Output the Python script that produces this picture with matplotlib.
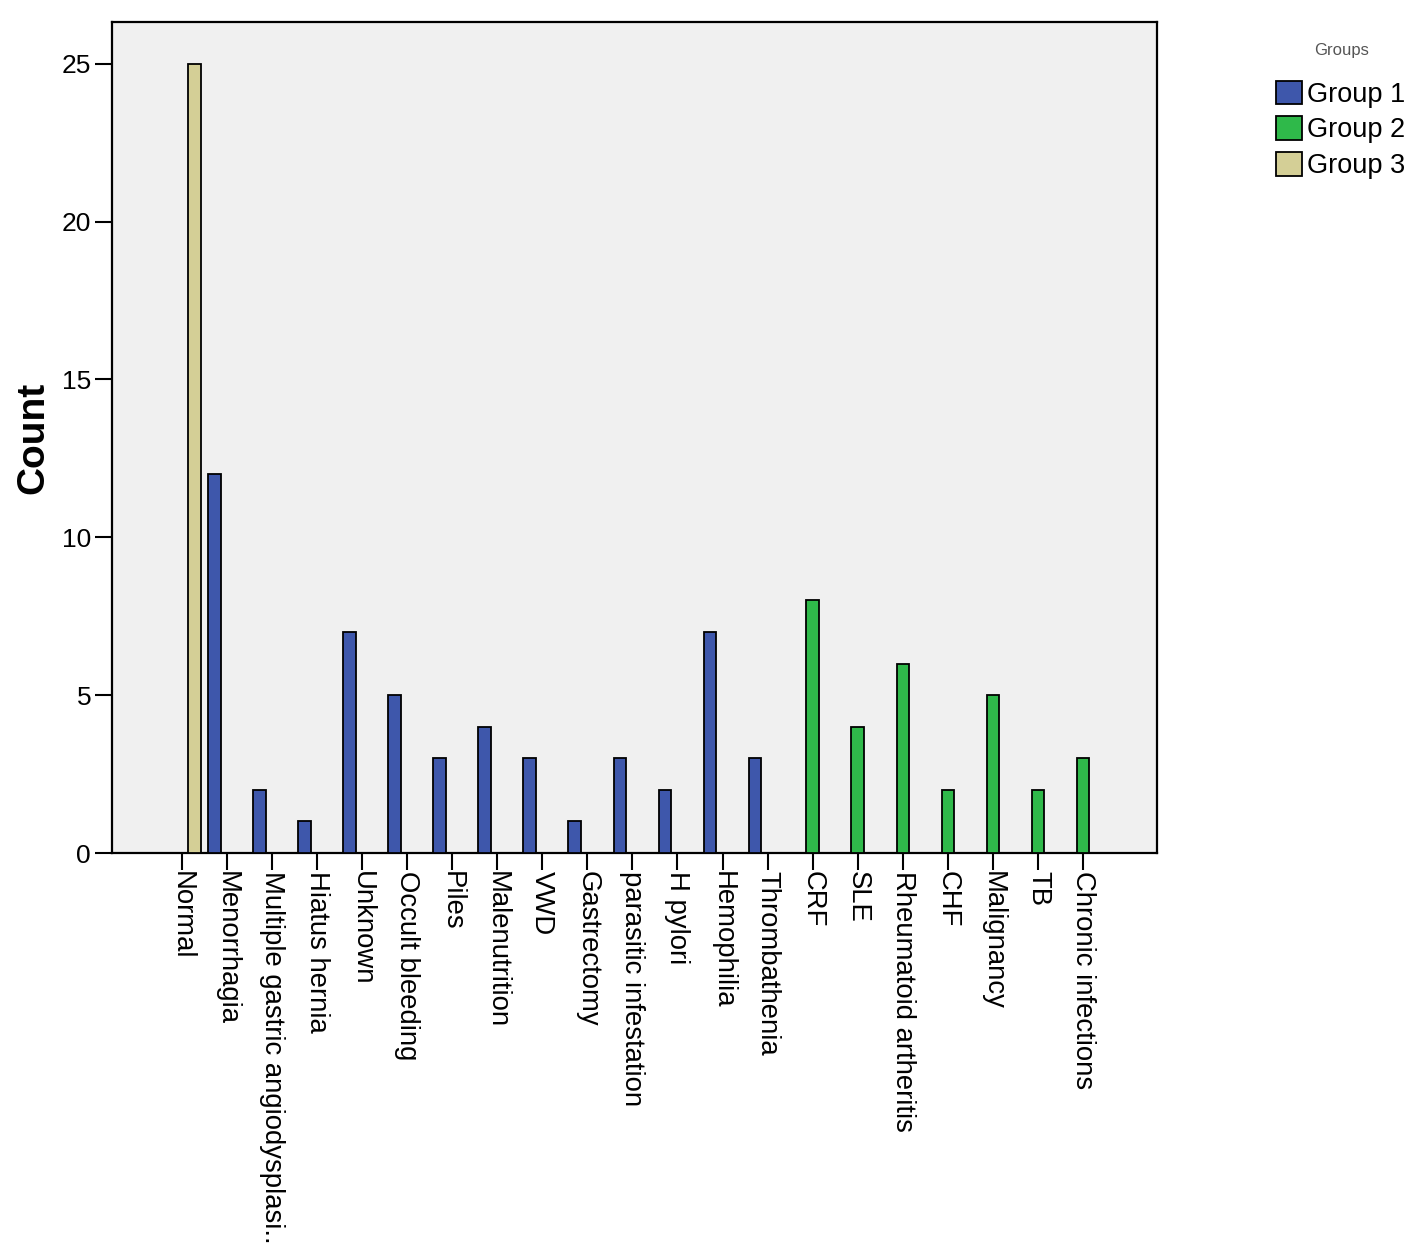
import numpy as np
import matplotlib
matplotlib.use('Agg')
import matplotlib.pyplot as plt
from matplotlib.patches import Patch

plt.rcParams['font.family'] = ['Liberation Sans', 'DejaVu Sans']

categories = ['Normal', 'Menorrhagia', 'Multiple gastric angiodysplasi..', 'Hiatus hernia',
              'Unknown', 'Occult bleeding', 'Piles', 'Malenutrition', 'VWD', 'Gastrectomy',
              'parasitic infestation', 'H pylori', 'Hemophilia', 'Thrombathenia', 'CRF', 'SLE',
              'Rheumatoid artheritis', 'CHF', 'Malignancy', 'TB', 'Chronic infections']
counts = [25, 12, 2, 1, 7, 5, 3, 4, 3, 1, 3, 2, 7, 3, 8, 4, 6, 2, 5, 2, 3]
groups = [3, 1, 1, 1, 1, 1, 1, 1, 1, 1, 1, 1, 1, 1, 2, 2, 2, 2, 2, 2, 2]

group_names = ['Group 1', 'Group 2', 'Group 3']
group_colors = {1: '#3e57ab', 2: '#2fb94a', 3: '#d4cf96'}
bar_w = 0.28
offsets = {1: -bar_w, 2: 0.0, 3: bar_w}

fig = plt.figure(figsize=(14.17, 12.48), dpi=100)
ax = fig.add_axes([0.079, 0.3165, 0.7375, 0.666])
ax.set_facecolor('#f0f0f0')

x = np.arange(len(categories))
for xi, c, g in zip(x, counts, groups):
    ax.bar(xi + offsets[g], c, width=bar_w, color=group_colors[g],
           edgecolor='black', linewidth=1.3, zorder=3)

ax.set_xlim(-1.55, len(categories) + 0.64)
ax.set_ylim(0, 26.33)
ax.set_yticks([0, 5, 10, 15, 20, 25])
ax.set_xticks(x)
ax.set_xticklabels(categories, rotation=-90, ha='center', va='top', fontsize=19.8)
ax.tick_params(axis='x', length=12, width=1.5, pad=1, direction='out')
ax.tick_params(axis='y', length=12, width=1.5, pad=3, direction='out', labelsize=19)
for s in ax.spines.values():
    s.set_linewidth(1.6)

ax.set_ylabel('Count', fontsize=28, fontweight='bold')
ax.yaxis.set_label_coords(-0.058, 0.5)

# legend, title placed separately like the SPSS output
fig.text(1342 / 1417, 1 - 50 / 1248, 'Groups', fontsize=12, color='#555555',
         ha='center', va='center')
handles = [Patch(facecolor=group_colors[i + 1], edgecolor='black', linewidth=1.3)
           for i in range(3)]
fig.legend(handles, group_names, loc='upper left',
           bbox_to_anchor=(1265 / 1417, 1 - 70 / 1248),
           fontsize=19.5, frameon=False,
           handlelength=0.95, handleheight=0.95, handletextpad=0.2,
           labelspacing=0.32, borderaxespad=0)

fig.savefig('out.png', dpi=100)
